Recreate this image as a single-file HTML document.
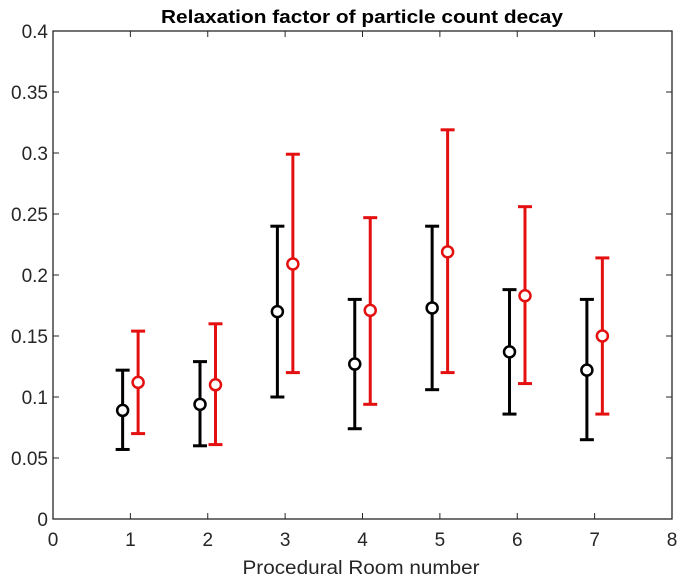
<!DOCTYPE html>
<html><head><meta charset="utf-8"><style>
body{margin:0;background:#fff}
svg text{font-family:"Liberation Sans",sans-serif}
</style></head><body>
<svg id="c" width="683" height="582" xmlns="http://www.w3.org/2000/svg">
<rect width="683" height="582" fill="#fff"/>
<text x="362" y="23" text-anchor="middle" font-size="18" font-weight="bold" fill="#000" textLength="402" lengthAdjust="spacingAndGlyphs">Relaxation factor of particle count decay</text>
<text x="361" y="574" text-anchor="middle" font-size="19" fill="#262626" textLength="237" lengthAdjust="spacingAndGlyphs">Procedural Room number</text>
<g id="axes"></g>
<g id="marks"></g>
</svg>
<script>
const rooms=[1,2,3,4,5,6,7];
const blackMean=[0.089,0.094,0.170,0.127,0.173,0.137,0.122];
const blackLow=[0.057,0.060,0.100,0.074,0.106,0.086,0.065];
const blackHigh=[0.122,0.129,0.240,0.180,0.240,0.188,0.180];
const redMean=[0.112,0.110,0.209,0.171,0.219,0.183,0.150];
const redLow=[0.070,0.061,0.120,0.094,0.120,0.111,0.086];
const redHigh=[0.154,0.160,0.299,0.247,0.319,0.256,0.214];
const xTicks=[0,1,2,3,4,5,6,7,8];
const yTicks=[0,0.05,0.1,0.15,0.2,0.25,0.3,0.35,0.4];
const yTickLabels=["0","0.05","0.1","0.15","0.2","0.25","0.3","0.35","0.4"];

const L=53,R=672,T=31,B=519;
const sx=v=>L+(v-0)/(8-0)*(R-L);
const sy=v=>B-(v-0)/(0.4-0)*(B-T);
const NS="http://www.w3.org/2000/svg";
function mk(tag,attrs,parent){const e=document.createElementNS(NS,tag);for(const k in attrs)e.setAttribute(k,attrs[k]);parent.appendChild(e);return e;}
const ax=document.getElementById('axes'), mg=document.getElementById('marks');
const box=mk('rect',{x:L,y:T,width:R-L,height:B-T,fill:'none',stroke:'#262626','stroke-width':1.3},ax);


xTicks.forEach(v=>{
  const x=sx(v);
  mk('line',{x1:x,x2:x,y1:B,y2:B-6,stroke:'#262626'},ax);
  mk('line',{x1:x,x2:x,y1:T,y2:T+6,stroke:'#262626'},ax);
  const t=mk('text',{x:x,y:B+27,'text-anchor':'middle','font-size':19,fill:'#262626'},ax);
  t.textContent=v;
  
  
});
yTicks.forEach((v,i)=>{
  const y=sy(v);
  mk('line',{x1:L,x2:L+6,y1:y,y2:y,stroke:'#262626'},ax);
  mk('line',{x1:R,x2:R-6,y1:y,y2:y,stroke:'#262626'},ax);
  const t=mk('text',{x:L-5,y:y+7,'text-anchor':'end','font-size':19,fill:'#262626'},ax);
  t.textContent=yTickLabels[i];
  
  
});
function series(mean,low,high,off,color,name){
  rooms.forEach((r,i)=>{
    const g=mk('g',{},mg);
    
    
    const x=sx(r+off);
    const cy=sy(mean[i]), lo=sy(low[i]), hi=sy(high[i]);
    mk('line',{x1:x,x2:x,y1:hi,y2:cy-6,stroke:color,'stroke-width':3},g);
    mk('line',{x1:x,x2:x,y1:cy+6,y2:lo,stroke:color,'stroke-width':3},g);
    mk('line',{x1:x-7,x2:x+7,y1:hi,y2:hi,stroke:color,'stroke-width':3},g);
    mk('line',{x1:x-7,x2:x+7,y1:lo,y2:lo,stroke:color,'stroke-width':3},g);
    mk('circle',{cx:x,cy:cy,r:5.5,fill:'none',stroke:color,'stroke-width':2.5},g);
  });
}
series(blackMean,blackLow,blackHigh,-0.1,'#000','black-series');
series(redMean,redLow,redHigh,0.1,'#e41010','red-series');
</script>
</body></html>
